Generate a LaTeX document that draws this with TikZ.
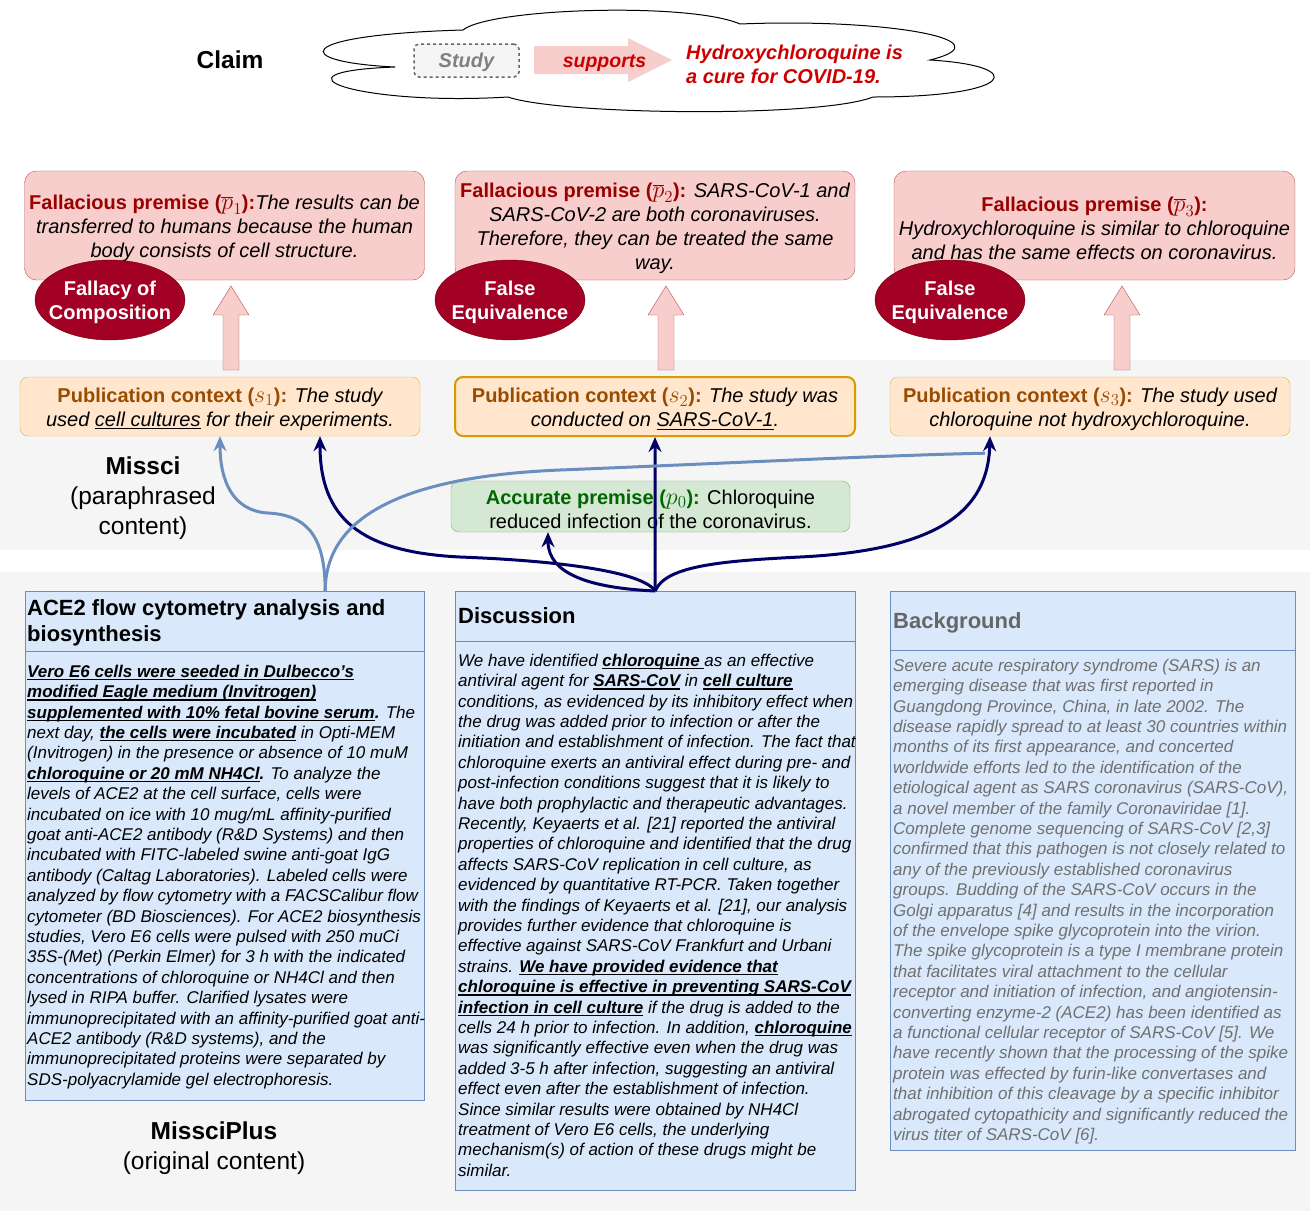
\RequirePackage{fix-cm}
\documentclass[tikz,border=0pt]{standalone}
\usepackage{fontspec}
\setmainfont{Liberation Sans}
\usetikzlibrary{arrows.meta,calc,shapes.geometric}

\newcommand{\setfs}[2]{\fontsize{#1}{#2}\selectfont}
\newcommand{\pmath}[1]{{\fontsize{24}{24}\selectfont\(#1\)}}
\newcommand{\tstrut}{\rule{0pt}{19.5pt}}
\newsavebox{\ulsave}
\newlength{\ulthick}
\setlength{\ulthick}{1.4pt}
\newcommand{\ulin}[1]{\sbox\ulsave{#1}\rlap{\usebox\ulsave}\rule[-3pt]{\wd\ulsave}{\ulthick}}

\definecolor{fallfill}{HTML}{F8CECC}
\definecolor{falldraw}{HTML}{B85450}
\definecolor{falltitle}{HTML}{990000}
\definecolor{ellfill}{HTML}{A20025}
\definecolor{elldraw}{HTML}{6F0000}
\definecolor{pubfill}{HTML}{FFE6CC}
\definecolor{pubdraw}{HTML}{D79B00}
\definecolor{pubtitle}{HTML}{994C00}
\definecolor{accfill}{HTML}{D5E8D4}
\definecolor{accdraw}{HTML}{82B366}
\definecolor{acctitle}{HTML}{006600}
\definecolor{plusfill}{HTML}{DAE8FC}
\definecolor{plusdraw}{HTML}{6C8EBF}
\definecolor{navy}{HTML}{000066}
\definecolor{bandgray}{HTML}{F5F5F5}
\definecolor{claimred}{HTML}{CC0000}
\definecolor{bggray}{HTML}{707070}

\begin{document}
\begin{tikzpicture}[x=1pt, y=-1pt,
    topstrut/.style={execute at begin node={\rule{0pt}{#1}}},
    fallbox/.style={draw=falldraw, fill=fallfill, rounded corners=12pt, minimum width=400, minimum height=109, align=center, font=\setfs{20}{24}\itshape, inner sep=0pt},
    fallacy/.style={ellipse, draw=elldraw, fill=ellfill, minimum width=150, minimum height=80, inner sep=0pt},
    fallacytext/.style={text=white, align=center, font=\setfs{20}{24}\bfseries, inner sep=0pt},
    pubbox/.style={draw=pubdraw!75, fill=pubfill, rounded corners=8pt, minimum width=400, minimum height=59, align=center, font=\setfs{20}{24}\itshape, inner sep=0pt},
    uparrow/.style={draw=falldraw, fill=fallfill},
    plusbox/.style={draw=plusdraw, fill=plusfill, anchor=north west, inner sep=0pt},
    plusline/.style={draw=plusdraw},
    headtext/.style={anchor=north west, align=left, inner sep=0pt, font=\setfs{22}{25.5}\bfseries},
    bodytext/.style={anchor=north west, align=left, inner sep=0pt, font=\setfs{17}{20.4}\itshape},
    bandlabel/.style={align=center, font=\setfs{24.5}{30}},
    navyarrow/.style={draw=navy, line width=3pt, -{Stealth[length=15pt,width=13pt,inset=5pt]}},
    bluearrow/.style={draw=plusdraw, line width=3pt}
  ]
\useasboundingbox (0,0) rectangle (1310,1211);

% Background bands
\fill[bandgray] (0,360) rectangle (1310,550);
\fill[bandgray] (0,572) rectangle (1310,1211);

% Claim cloud
\draw[fill=white, line width=1pt] (395,67) .. controls (290,62) and (290,35) .. (463,30)
  .. controls (490,8) and (690,2) .. (740,24)
  .. controls (885,18) and (1010,40) .. (930,60)
  .. controls (1030,66) and (1015,97) .. (873,97)
  .. controls (820,118) and (560,115) .. (508,97)
  .. controls (360,106) and (260,72) .. (395,67) -- cycle;
\node[font=\setfs{24.5}{30}\bfseries] (claimlbl) at (230,60) {Claim};
\node[draw=black!60, dashed, line width=1.5pt, fill=bandgray, rounded corners=5pt, minimum width=105, minimum height=33, text=black!50, font=\setfs{20}{24}\bfseries\itshape, topstrut=18pt] (study) at (466.5,60.5) {Study};
\fill[fallfill] (534,46) -- (628,46) -- (628,38) -- (672,60) -- (628,82) -- (628,74) -- (534,74) -- cycle;
\node[text=claimred, font=\setfs{19.5}{24}\bfseries\itshape, topstrut=17pt] (supp) at (604.5,61) {supports};
\node[anchor=west, align=left, inner sep=0pt, text=claimred, font=\setfs{20}{24}\bfseries\itshape] (claimtxt) at (686,64) {Hydroxychloroquine is\\a cure for COVID-19.};

% Fallacious premises
\node[fallbox] (fp1) at (224.5,225.5) {\tstrut{\upshape\bfseries\color{falltitle}Fallacious premise (\pmath{\overline{p}_1}):}The results can be\\transferred to humans because the human\\body consists of cell structure.};
\node[fallbox] (fp2) at (655,225.5) {\tstrut{\upshape\bfseries\color{falltitle}Fallacious premise (\pmath{\overline{p}_2}):} SARS-CoV-1 and\\SARS-CoV-2 are both coronaviruses.\\Therefore, they can be treated the same\\way.};
\node[fallbox, minimum width=401] (fp3) at (1094.5,225.5) {\tstrut{\upshape\bfseries\color{falltitle}Fallacious premise (\pmath{\overline{p}_3}):}\\Hydroxychloroquine is similar to chloroquine\\and has the same effects on coronavirus.};

\foreach \x in {231,666,1122} {
  \draw[uparrow] (\x-8,370) -- (\x-8,315) -- (\x-18,315) -- (\x,286) -- (\x+18,315) -- (\x+8,315) -- (\x+8,370) -- cycle;
}

\node[fallacy] (fal1) at (110,300) {};
\node[fallacytext] (fal1t) at (fal1) {\rule{0pt}{20pt}Fallacy of\\Composition};
\node[fallacy] (fal2) at (510,300) {};
\node[fallacytext] (fal2t) at (fal2) {\rule{0pt}{20pt}False\\Equivalence};
\node[fallacy] (fal3) at (950,300) {};
\node[fallacytext] (fal3t) at (fal3) {\rule{0pt}{20pt}False\\Equivalence};

% Publication context and accurate premise
\node[pubbox] (ps1) at (220,406.5) {\tstrut{\upshape\bfseries\color{pubtitle}Publication context (\pmath{s_1}):} The study\\used {\setlength{\ulthick}{1pt}\ulin{cell cultures}} for their experiments.};
\node[pubbox, draw=pubdraw, line width=2pt] (ps2) at (655,406.5) {\tstrut{\upshape\bfseries\color{pubtitle}Publication context (\pmath{s_2}):} The study was\\conducted on {\setlength{\ulthick}{1pt}\ulin{SARS-CoV-1}}.};
\node[pubbox] (ps3) at (1090,406.5) {\tstrut{\upshape\bfseries\color{pubtitle}Publication context (\pmath{s_3}):} The study used\\chloroquine not hydroxychloroquine.};
\node[draw=accdraw, fill=accfill, rounded corners=8pt, minimum width=399, minimum height=51, align=center, inner sep=0pt, font=\setfs{20}{24}] (acc) at (650.5,506.5) {\tstrut{\bfseries\color{acctitle}Accurate premise (\pmath{p_0}):} Chloroquine\\reduced infection of the coronavirus.};

\node[bandlabel] (missci) at (143,498) {\textbf{Missci}\\(paraphrased\\content)};
\node[bandlabel] (missciplus) at (214,1148) {\textbf{MissciPlus}\\(original content)};

% Original content boxes
\node[plusbox, minimum width=399, minimum height=509] (mbox) at (25,591) {};
\draw[plusline] (mbox.west |- 0,651) -- (mbox.east |- 0,651);
\node[headtext] (mhead) at (27,598.5) {\rule{0pt}{17pt}ACE2 flow cytometry analysis and\\biosynthesis};
\node[bodytext] (mbody) at (27,663) {\rule{0pt}{14pt}{\bfseries\ulin{Vero E6 cells were seeded in Dulbecco's}}\\
{\bfseries\ulin{modified Eagle medium (Invitrogen)}}\\
{\bfseries\ulin{supplemented with 10\% fetal bovine serum}.} The\\
next day, {\bfseries\ulin{the cells were incubated}} in Opti-MEM\\
(Invitrogen) in the presence or absence of 10 muM\\
{\bfseries\ulin{chloroquine or 20 mM NH4Cl}.} To analyze the\\
levels of ACE2 at the cell surface, cells were\\
incubated on ice with 10 mug/mL affinity-purified\\
goat anti-ACE2 antibody (R\&D Systems) and then\\
incubated with FITC-labeled swine anti-goat IgG\\
antibody (Caltag Laboratories). Labeled cells were\\
analyzed by flow cytometry with a FACSCalibur flow\\
cytometer (BD Biosciences). For ACE2 biosynthesis\\
studies, Vero E6 cells were pulsed with 250 muCi\\
35S-(Met) (Perkin Elmer) for 3 h with the indicated\\
concentrations of chloroquine or NH4Cl and then\\
lysed in RIPA buffer. Clarified lysates were\\
immunoprecipitated with an affinity-purified goat anti-\\
ACE2 antibody (R\&D systems), and the\\
immunoprecipitated proteins were separated by\\
SDS-polyacrylamide gel electrophoresis.};

\node[plusbox, minimum width=400, minimum height=599] (disc) at (455,591) {};
\draw[plusline] (disc.west |- 0,641) -- (disc.east |- 0,641);
\node[headtext] (dhead) at (458,606.5) {\rule{0pt}{17pt}Discussion};
\node[bodytext] (dbody) at (458,652) {\rule{0pt}{14pt}We have identified {\bfseries\ulin{chloroquine\ }}as an effective\\
antiviral agent for {\bfseries\ulin{SARS-CoV}} in {\bfseries\ulin{cell culture}}\\
conditions, as evidenced by its inhibitory effect when\\
the drug was added prior to infection or after the\\
initiation and establishment of infection. The fact that\\
chloroquine exerts an antiviral effect during pre- and\\
post-infection conditions suggest that it is likely to\\
have both prophylactic and therapeutic advantages.\\
Recently, Keyaerts et al. [21] reported the antiviral\\
properties of chloroquine and identified that the drug\\
affects SARS-CoV replication in cell culture, as\\
evidenced by quantitative RT-PCR. Taken together\\
with the findings of Keyaerts et al. [21], our analysis\\
provides further evidence that chloroquine is\\
effective against SARS-CoV Frankfurt and Urbani\\
strains. {\bfseries\ulin{We have provided evidence that}}\\
{\bfseries\ulin{chloroquine is effective in preventing SARS-CoV}}\\
{\bfseries\ulin{infection in cell culture}} if the drug is added to the\\
cells 24 h prior to infection. In addition, {\bfseries\ulin{chloroquine}}\\
was significantly effective even when the drug was\\
added 3-5 h after infection, suggesting an antiviral\\
effect even after the establishment of infection.\\
Since similar results were obtained by NH4Cl\\
treatment of Vero E6 cells, the underlying\\
mechanism(s) of action of these drugs might be\\
similar.};

\node[plusbox, minimum width=405, minimum height=559] (backg) at (890,591) {};
\draw[plusline] (backg.west |- 0,650) -- (backg.east |- 0,650);
\node[headtext, text=black!60] (bhead) at (893,611) {\rule{0pt}{17pt}Background};
\node[bodytext, text=bggray] (bbody) at (893,657) {\rule{0pt}{14pt}Severe acute respiratory syndrome (SARS) is an\\
emerging disease that was first reported in\\
Guangdong Province, China, in late 2002. The\\
disease rapidly spread to at least 30 countries within\\
months of its first appearance, and concerted\\
worldwide efforts led to the identification of the\\
etiological agent as SARS coronavirus (SARS-CoV),\\
a novel member of the family Coronaviridae [1].\\
Complete genome sequencing of SARS-CoV [2,3]\\
confirmed that this pathogen is not closely related to\\
any of the previously established coronavirus\\
groups. Budding of the SARS-CoV occurs in the\\
Golgi apparatus [4] and results in the incorporation\\
of the envelope spike glycoprotein into the virion.\\
The spike glycoprotein is a type I membrane protein\\
that facilitates viral attachment to the cellular\\
receptor and initiation of infection, and angiotensin-\\
converting enzyme-2 (ACE2) has been identified as\\
a functional cellular receptor of SARS-CoV [5]. We\\
have recently shown that the processing of the spike\\
protein was effected by furin-like convertases and\\
that inhibition of this cleavage by a specific inhibitor\\
abrogated cytopathicity and significantly reduced the\\
virus titer of SARS-CoV [6].};

% Connectors
\coordinate (mtop) at ($(mbox.north)+(100.5,0)$);
\coordinate (ps1r) at ($(ps1.south)+(100,0)$);
\coordinate (ps3l) at ($(ps3.south)+(-100,0)$);
\coordinate (ps3b) at ($(ps3l)+(-5,17)$);
\coordinate (accl) at ($(acc.south)+(-102.5,0)$);

\draw[navyarrow] (disc.north) .. controls +(-15,-22) and +(80,3) .. (460,557) .. controls +(-100,-5) and +(0,82) .. (ps1r);
\draw[navyarrow] (disc.north) .. controls +(-65,-3) and +(0,42) .. (accl);
\draw[navyarrow] (disc.north) -- (ps2.south);
\draw[bluearrow, -{Stealth[length=15pt,width=13pt,inset=5pt]}] (mtop) .. controls +(0,-60) and +(35,2) .. (268,513) .. controls +(-35,-2) and +(0,45) .. (ps1.south);
\draw[bluearrow] (mtop) .. controls +(0,-90) and +(-120,5) .. (560,470) .. controls +(150,-6) and +(-100,2) .. (ps3b);
\draw[navyarrow] (disc.north) .. controls +(10,-25) and +(-80,4) .. (800,557) .. controls +(140,-7) and +(-2,74) .. (ps3l);

\end{tikzpicture}
\end{document}
